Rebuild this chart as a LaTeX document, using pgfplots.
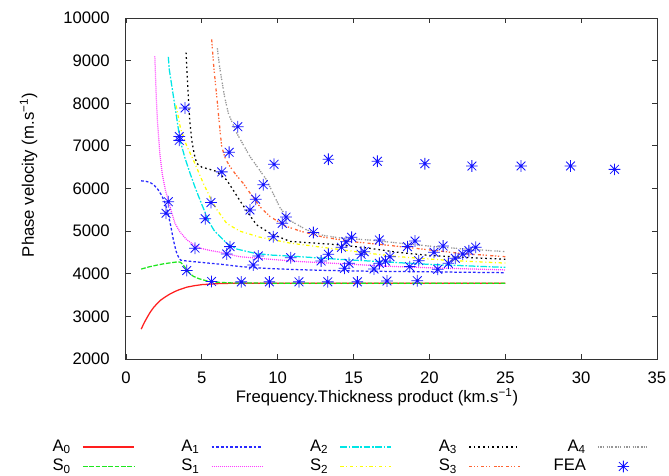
\documentclass[border=0pt]{standalone}
\usepackage{fontspec}
\setmainfont{Liberation Sans}
\usepackage{pgfplots}
\pgfplotsset{compat=1.18}
\definecolor{cRed}{RGB}{255,30,30}
\definecolor{cGreen}{RGB}{30,230,30}
\definecolor{cBlue}{RGB}{40,40,255}
\definecolor{cMag}{RGB}{255,60,255}
\definecolor{cCyan}{RGB}{0,230,230}
\definecolor{cYel}{RGB}{255,255,0}
\definecolor{cOra}{RGB}{255,100,50}
\definecolor{cGray}{RGB}{150,150,150}
\definecolor{cStar}{RGB}{20,20,255}
\pgfdeclareplotmark{gstar}{%
  \pgfpathmoveto{\pgfpoint{-\pgfplotmarksize}{0pt}}\pgfpathlineto{\pgfpoint{\pgfplotmarksize}{0pt}}%
  \pgfpathmoveto{\pgfpoint{0pt}{-\pgfplotmarksize}}\pgfpathlineto{\pgfpoint{0pt}{\pgfplotmarksize}}%
  \pgfpathmoveto{\pgfpoint{-.75\pgfplotmarksize}{-.75\pgfplotmarksize}}\pgfpathlineto{\pgfpoint{.75\pgfplotmarksize}{.75\pgfplotmarksize}}%
  \pgfpathmoveto{\pgfpoint{-.75\pgfplotmarksize}{.75\pgfplotmarksize}}\pgfpathlineto{\pgfpoint{.75\pgfplotmarksize}{-.75\pgfplotmarksize}}%
  \pgfusepathqstroke}
\begin{document}
\begin{tikzpicture}
\useasboundingbox (-75.6pt,-69.6pt) rectangle (325.8pt,215.4pt);
\begin{axis}[
  scale only axis, width=318.6pt, height=204.6pt,
  xmin=0, xmax=35, ymin=2000, ymax=10000,
  xtick={0,5,...,35}, ytick={2000,3000,...,10000},
  scaled y ticks=false, scaled x ticks=false,
  tick align=inside, major tick length=3pt,
  axis line style={black!80, line width=0.6pt},
  every tick/.style={black!80, line width=0.5pt},
  /pgf/number format/assume math mode=true,
  /pgf/number format/set thousands separator={},
  ticklabel style={font=\fontsize{10}{12}\selectfont},
  xticklabel style={yshift=-4pt},
  yticklabel style={xshift=-6.3pt},
  xlabel={Frequency.Thickness product (km.s\textsuperscript{−1})},
  ylabel={Phase velocity (m.s\textsuperscript{−1})},
  xlabel style={at={(axis description cs:0.4727,-0.128)}, anchor=base, font=\fontsize{10}{12}\selectfont},
  ylabel style={at={(axis description cs:-0.1733,0.5396)}, anchor=base, rotate=0, font=\fontsize{10}{12}\selectfont},
  legend columns=5,
  legend plot pos=right,
  legend image code/.code={\draw[mark repeat=2,mark phase=2,#1,line width=1.05pt] plot coordinates {(0pt,0pt)(15.3pt,0pt)(30.6pt,0pt)};},
  legend style={at={(axis description cs:-0.2053,-0.234)}, anchor=north west, draw=none, fill=none,
    inner sep=0pt, outer sep=0pt, column sep=6.6pt, row sep=1.6pt,
    font=\fontsize{10}{12}\selectfont,
    nodes={inner sep=0pt, text width=32.4pt, align=right, text height=7.5pt, text depth=2.5pt}},
  every axis plot/.append style={line width=0.75pt},
]
% A0
\addplot[color=cRed, draw=cRed, solid] coordinates {(1,2700)(1.2,2850)(1.4,2980)(1.6,3100)(1.8,3200)(2.05,3300)(2.3,3385)(2.6,3460)(2.9,3525)(3.2,3580)(3.5,3625)(4,3685)(4.5,3720)(5,3745)(6,3768)(7,3777)(9,3780)(25,3780)};
\addlegendentry{A\textsubscript{0}}
% A1
\addplot[color=cBlue, draw=cBlue, dash pattern=on 1.6pt off 1.2pt] coordinates {(1,6180)(1.3,6170)(1.6,6140)(1.85,6080)(2.1,5980)(2.35,5840)(2.55,5680)(2.75,5450)(2.95,5120)(3.12,4800)(3.3,4530)(3.45,4400)(3.6,4320)(4,4300)(5,4265)(6.2,4225)(7.5,4170)(9,4130)(11,4100)(13,4080)(16,4060)(20,4045)(25,4025)};
\addlegendentry{A\textsubscript{1}}
% A2
\addplot[color=cCyan, draw=cCyan, dash pattern=on 4pt off 1pt on 1pt off 1pt] coordinates {(2.79,9090)(2.85,8800)(3.0,8450)(3.23,7920)(3.56,7140)(3.9,6700)(4.22,6360)(4.55,6030)(4.88,5730)(5.2,5450)(5.5,5200)(5.8,5020)(6.2,4870)(6.7,4700)(7.3,4580)(8.5,4480)(9.5,4440)(11.5,4400)(14,4340)(16,4300)(20,4220)(25,4150)};
\addlegendentry{A\textsubscript{2}}
% A3
\addplot[color=black, draw=black, dash pattern=on 1pt off 1.8pt] coordinates {(3.96,9190)(4.03,8700)(4.11,8150)(4.2,7600)(4.33,7140)(4.5,6800)(4.66,6590)(5.0,6500)(5.32,6470)(5.98,6400)(6.64,6200)(7.0,6000)(7.5,5720)(8.0,5450)(8.6,5150)(9.5,4950)(10.8,4760)(12,4730)(14,4680)(16,4600)(18,4500)(20,4430)(22,4390)(25,4340)};
\addlegendentry{A\textsubscript{3}}
% A4
\addplot[color=cGray, draw=cGray, dash pattern=on 0.8pt off 0.6pt on 0.8pt off 0.6pt on 0.8pt off 1.6pt] coordinates {(6.02,9290)(6.15,8900)(6.31,8550)(6.5,8150)(6.75,7760)(7.3,7300)(8.17,6750)(9.27,6200)(10.15,5550)(10.8,5250)(11.9,5030)(13,4900)(14.1,4840)(16.1,4790)(18,4720)(20,4650)(22,4590)(25,4520)};
\addlegendentry{A\textsubscript{4}}
% S0
\addplot[color=cGreen, draw=cGreen, dash pattern=on 2.8pt off 1pt] coordinates {(1,4110)(1.5,4160)(2,4200)(2.5,4235)(3,4260)(3.4,4280)(3.6,4270)(3.8,4190)(4.0,4100)(4.2,4010)(4.44,3940)(4.8,3885)(5.3,3835)(6,3800)(7,3785)(9,3780)(25,3780)};
\addlegendentry{S\textsubscript{0}}
% S1
\addplot[color=cMag, draw=cMag, dash pattern=on 0.6pt off 0.6pt] coordinates {(1.9,9100)(1.95,8600)(2.0,8100)(2.07,7600)(2.15,7200)(2.24,6780)(2.4,6320)(2.6,5960)(2.8,5700)(3.0,5450)(3.23,5180)(3.56,4980)(4.0,4800)(4.5,4670)(4.9,4600)(5.5,4550)(6.2,4505)(7.5,4400)(9.5,4340)(11.5,4285)(14,4240)(17,4180)(20,4140)(25,4090)};
\addlegendentry{S\textsubscript{1}}
% S2
\addplot[color=cYel, draw=cYel, dash pattern=on 2pt off 1.6pt on 0.6pt off 1.6pt] coordinates {(3.3,7950)(3.6,7400)(4.0,7000)(4.44,6670)(5.1,6120)(5.6,5750)(6.0,5500)(6.64,5180)(7.5,5000)(8.8,4860)(10.8,4720)(13.4,4600)(16,4480)(18,4400)(21,4320)(25,4250)};
\addlegendentry{S\textsubscript{2}}
% S3
\addplot[color=cOra, draw=cOra, dash pattern=on 1.8pt off 1pt on 0.8pt off 1pt on 0.8pt off 2pt] coordinates {(5.65,9500)(5.75,9000)(5.87,8550)(6.0,8100)(6.09,7760)(6.2,7350)(6.31,6980)(6.55,6700)(6.86,6510)(7.3,6300)(7.73,6120)(8.3,5830)(8.83,5570)(9.5,5340)(10.5,5120)(11.5,5000)(13,4860)(15,4750)(17,4680)(20,4560)(22,4480)(25,4400)};
\addlegendentry{S\textsubscript{3}}
% FEA
\addplot[color=cStar, draw=cStar, only marks, mark=gstar, mark size=3.5pt, line width=0.5pt, mark options={line width=0.5pt}] coordinates {
(2.64,5420)(2.79,5690)(3.51,7220)(3.51,7130)(3.89,7890)(4.0,4075)(4.55,4600)(5.22,5290)(5.6,5670)(5.64,3820)
(6.31,6390)(6.64,4465)(6.8,6850)(6.86,4636)(7.37,7450)(7.6,3810)(8.17,5496)(8.39,4206)(8.55,5750)(8.72,4417)
(9.05,6090)(9.45,3810)(9.71,4870)(9.76,6568)(10.3,5184)(10.55,5330)(10.86,4377)(11.4,3810)(12.35,4968)(12.86,4300)
(13.34,4457)(13.3,3810)(13.34,6685)(14.2,4621)(14.4,4128)(14.5,4753)(14.7,4245)(14.87,4855)(15.25,3810)(15.5,4457)
(15.7,4518)(16.35,4112)(16.57,6638)(16.7,4245)(16.7,4793)(17.1,4300)(17.2,3830)(17.4,4401)(18.55,4636)(18.7,4167)
(19.05,4769)(19.2,3838)(19.3,4307)(19.7,6582)(20.3,4504)(20.55,4105)(20.9,4652)(21.25,4245)(21.7,4363)(22.2,4464)
(22.6,4541)(22.8,6528)(23.05,4621)(26.04,6528)(29.3,6528)(32.2,6450)};
\addlegendentry{FEA}
\end{axis}
\end{tikzpicture}
\end{document}
